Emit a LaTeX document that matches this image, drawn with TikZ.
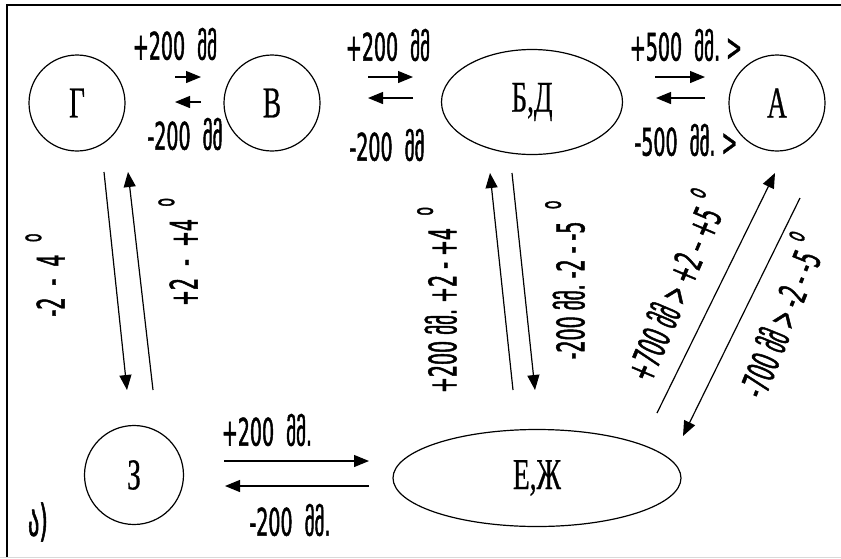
\documentclass[tikz,border=0pt]{standalone}
\usepackage{fontspec}
\setmainfont{DejaVu Sans}[FakeStretch=0.5,FakeBold=1.2]
\newfontfamily\nodefont{Liberation Serif}[FakeStretch=0.62,FakeBold=0.6]
\newcommand{\dg}{\,\raisebox{0.62em}{\fontsize{28}{28}\selectfont o}}
\usetikzlibrary{arrows.meta,shapes.geometric}
\begin{document}
\begin{tikzpicture}[x=1pt,y=-1pt,
  st/.style={draw,line width=1.2pt,inner sep=0pt,font=\nodefont\fontsize{44}{44}\selectfont},
  circ/.style={st,circle,minimum size=96pt},
  ell/.style={st,ellipse},
  arr/.style={line width=1.2pt,-{Triangle[length=15pt,width=12pt]}},
  lab/.style={inner sep=0pt,font=\fontsize{38}{38}\selectfont}]
\useasboundingbox (0,0) rectangle (841,558);
\draw[line width=1.2pt] (7,558) -- (7,5) -- (841,5);
\draw[line width=0.8pt,gray!30] (0,557) -- (841,557);
% nodes
\node[circ] (G) at (77,103) {Г};
\node[circ] (V) at (272,103) {В};
\node[ell,minimum width=181pt,minimum height=105pt] (BD) at (532,102) {Б,Д};
\node[circ] (A) at (777,103) {А};
\node[circ,minimum size=99pt] (Z) at (134,475) {З};
\node[ell,minimum width=288pt,minimum height=97pt] (EZ) at (537,478) {Е,Ж};
% helper coordinates
\coordinate (gv1) at (175,77); \coordinate (gv2) at (201,77);
\coordinate (vg1) at (201,102); \coordinate (vg2) at (175,102);
\coordinate (vb1) at (368,77); \coordinate (vb2) at (413,77);
\coordinate (bv1) at (413,98); \coordinate (bv2) at (368,98);
\coordinate (ba1) at (655,77); \coordinate (ba2) at (705,77);
\coordinate (ab1) at (705,98); \coordinate (ab2) at (656,98);
\coordinate (gz1) at (104,172); \coordinate (gz2) at (127,390);
\coordinate (zg1) at (153,390); \coordinate (zg2) at (128,172);
\coordinate (eb1) at (513,390); \coordinate (eb2) at (490,173);
\coordinate (be1) at (512,173); \coordinate (be2) at (535,390);
\coordinate (ea1) at (657,413); \coordinate (ea2) at (775,173);
\coordinate (ae1) at (800,198); \coordinate (ae2) at (683,436);
\coordinate (ze1) at (224,461); \coordinate (ze2) at (369,461);
\coordinate (ez1) at (369,486); \coordinate (ez2) at (225,486);
% connectors
\draw[arr] (gv1) -- (gv2);
\draw[arr] (vg1) -- (vg2);
\draw[arr] (vb1) -- (vb2);
\draw[arr] (bv1) -- (bv2);
\draw[arr] (ba1) -- (ba2);
\draw[arr] (ab1) -- (ab2);
\draw[arr] (gz1) -- (gz2);
\draw[arr] (zg1) -- (zg2);
\draw[arr] (eb1) -- (eb2);
\draw[arr] (be1) -- (be2);
\draw[arr] (ea1) -- (ea2);
\draw[arr] (ae1) -- (ae2);
\draw[arr] (ze1) -- (ze2);
\draw[arr] (ez1) -- (ez2);
% labels
\node[lab] (l1) at (175,44) {+200\ \ მმ};
\node[lab] (l2) at (185,134) {-200\ \ მმ};
\node[lab] (l3) at (388,45) {+200\ \ მმ};
\node[lab] (l4) at (387,145) {-200\ \ მმ};
\node[lab] (l5) at (686,45) {+500\ \ მმ.\ >};
\node[lab] (l6) at (686,140) {-500\ \ მმ.\ >};
\node[lab,rotate=90] (l7) at (45,275) {-2\ \ -\ \ 4\ \dg};
\node[lab,rotate=90] (l8) at (178,252) {+2\ \ -\ \ +4\ \dg};
\node[lab,rotate=90] (l9) at (437,300) {+200\ მმ.\ +2\ -\ +4\ \dg};
\node[lab,rotate=90] (l10) at (565,280) {-200\ მმ.\ -2\ -\ -5\ \dg};
\node[lab,rotate=67] (l11) at (672,285) {+700\ მმ\ >\ +2\ –\ +5\dg};
\node[lab,rotate=68] (l12) at (778,315) {-700\ მმ\ >\ -2\ -\ -5\dg};
\node[lab] (l13) at (267,430) {+200\ \ მმ.};
\node[lab] (l14) at (290,520) {-200\ \ მმ.};
\node[lab,font=\fontsize{44}{44}\selectfont] (l15) at (38,522) {ა)};
\end{tikzpicture}
\end{document}
